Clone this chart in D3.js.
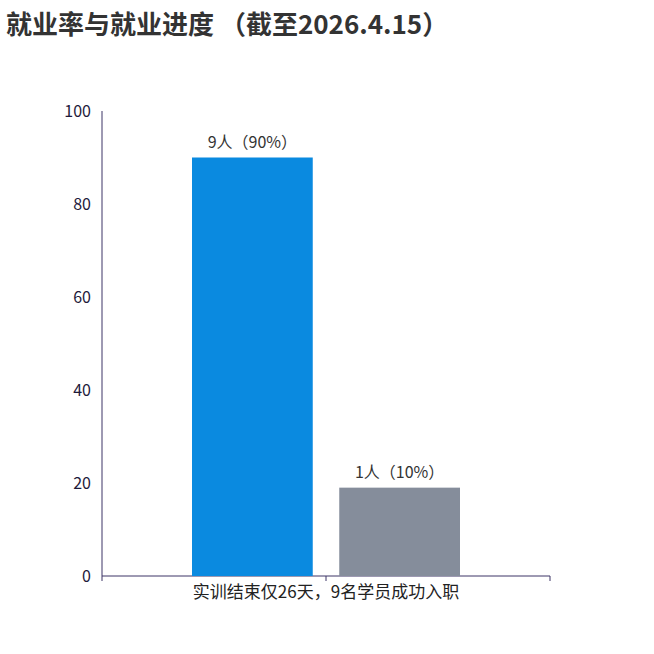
<!DOCTYPE html>
<html><head><meta charset="utf-8">
<script src="https://cdn.jsdelivr.net/npm/d3@7"></script>
<style>body{margin:0;background:#fff}</style>
</head><body>
<svg id="chart" width="654" height="654"></svg>
<script>
const categories = ['实训结束仅26天，9名学员成功入职'];
const seriesNames = ['已就业', '未就业'];
const seriesValues = [90, 19];
const barLabels = ['9人（90%）', '1人（10%）'];
const yTicks = [0, 20, 40, 60, 80, 100];
const colors = ['#0a8ae0', '#858d9b'];

const svg = d3.select('#chart');
const font = '"Noto Sans CJK SC", "Noto Sans", sans-serif';
const axisClr = '#3d3566';

const x0 = d3.scaleBand().domain(categories).range([102, 550]);
const x1 = d3.scaleBand().domain(seriesNames).range([90, 358]).paddingInner(0.18);
const y = d3.scaleLinear().domain([0, 100]).range([576, 111]);

svg.append('text').attr('x', 6).attr('y', 34)
    .attr('font-family', font).attr('font-size', 26).attr('font-weight', 'bold')
    .attr('fill', '#333').text('就业率与就业进度 （截至2026.4.15）');

svg.selectAll('.ytick').data(yTicks).enter().append('text')
    .attr('x', 91).attr('y', d => y(d) + 6)
    .attr('text-anchor', 'end').attr('font-family', font).attr('font-size', 16)
    .attr('fill', '#1e1a3a').text(d => d);

svg.append('line').attr('x1', 102).attr('x2', 102).attr('y1', y(100)).attr('y2', y(0))
    .attr('stroke', axisClr);
svg.append('line').attr('x1', 102).attr('x2', 550).attr('y1', y(0)).attr('y2', y(0))
    .attr('stroke', axisClr);
[102, 326, 550].forEach(t => svg.append('line').attr('x1', t).attr('x2', t)
    .attr('y1', y(0)).attr('y2', y(0) + 5).attr('stroke', axisClr));

const g = svg.append('g').attr('transform', `translate(${x0(categories[0])},0)`);
g.selectAll('rect').data(seriesValues).enter().append('rect')
    .attr('x', (d, i) => x1(seriesNames[i]))
    .attr('width', x1.bandwidth())
    .attr('y', d => y(d))
    .attr('height', d => y(0) - y(d))
    .attr('fill', (d, i) => colors[i]);
g.selectAll('.lbl').data(seriesValues).enter().append('text')
    .attr('x', (d, i) => x1(seriesNames[i]) + x1.bandwidth() / 2)
    .attr('y', d => y(d) - 10)
    .attr('text-anchor', 'middle').attr('font-family', font).attr('font-size', 16)
    .attr('fill', '#333').text((d, i) => barLabels[i]);

svg.append('text').attr('x', x0(categories[0]) + x0.bandwidth() / 2).attr('y', 598)
    .attr('text-anchor', 'middle').attr('font-family', font).attr('font-size', 17)
    .attr('fill', '#222').text(categories[0]);
</script>
</body></html>
